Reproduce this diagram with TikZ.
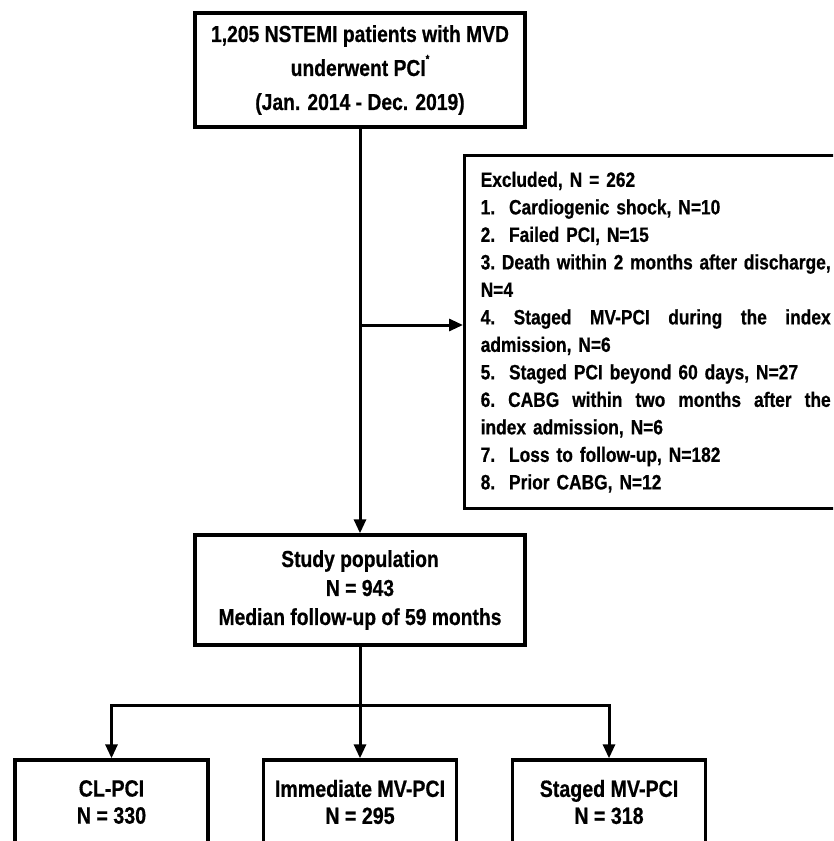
\documentclass[tikz,border=0pt]{standalone}
\usepackage{fontspec}
\newfontfamily\fa[FakeStretch=0.835, BoldFeatures={FakeBold=0.6}]{Liberation Sans}
\usetikzlibrary{arrows.meta}
\newcommand\jline[1]{\leavevmode\hbox to 350pt{\spaceskip=0.25em plus 1fil\relax\xspaceskip=0.25em plus 1fil\relax #1}}
\begin{document}
\begin{tikzpicture}[x=1pt,y=-1pt,
  box/.style={draw, line width=3.4pt, inner sep=0pt, align=center,
    font=\fa\bfseries\fontsize{23.1}{34}\selectfont},
  lbox/.style={draw, line width=3.4pt, inner sep=0pt, align=center,
    minimum width=193pt, minimum height=84pt,
    font=\fa\bfseries\fontsize{23.5}{27}\selectfont},
  conn/.style={line width=3pt},
  arr/.style={line width=3pt, line join=miter, -{Triangle[length=14pt,width=12pt]}}]
\useasboundingbox (0,0) rectangle (833,841);
\clip (0,0) rectangle (833,841);
\fill[white] (0,0) rectangle (833,841);

\node[box, minimum width=330pt, minimum height=114pt] (top) at (360,70)
  {1,205 NSTEMI patients with MVD\\underwent PCI\raisebox{1.1ex}{\fontsize{11}{11}\selectfont *}\\(Jan. 2014 - Dec. 2019)};

\node[box, minimum width=330pt, minimum height=110pt,
  font=\fa\bfseries\fontsize{23.1}{29}\selectfont] (study) at (360,590)
  {Study population\\N = 943\\Median follow-up of 59 months};

\node[draw, line width=3.4pt, anchor=north west, minimum height=353pt,
  text width=350pt, inner xsep=16pt, inner ysep=0pt, align=left,
  font=\fa\bfseries\fontsize{20.8}{27.5}\selectfont] (exc) at (463,154)
  {Excluded, N = 262\\
   1.\ \ Cardiogenic shock, N=10\\
   2.\ \ Failed PCI, N=15\\
   \jline{3. Death within 2 months after discharge,}\\
   N=4\\
   \jline{4. Staged MV-PCI during the index}\\
   admission, N=6\\
   5.\ \ Staged PCI beyond 60 days, N=27\\
   \jline{6. CABG within two months after the}\\
   index admission, N=6\\
   7.\ \ Loss to follow-up, N=182\\
   8.\ \ Prior CABG, N=12};

\node[lbox] (cl) at (111.5,802) {CL-PCI\\N = 330};
\node[lbox] (im) at (360,802) {Immediate MV-PCI\\N = 295};
\node[lbox] (st) at (609,802) {Staged MV-PCI\\N = 318};

\coordinate (j1) at (360,325);
\coordinate (j2) at (360,705);
\draw[conn] (top.south) -- (j1);
\draw[arr] (j1) -- (study.north);
\draw[arr] (j1) -- (j1 -| exc.west);
\draw[conn] (study.south) -- (j2);
\draw[arr] (j2) -| (cl.north);
\draw[arr] (j2) -| (st.north);
\draw[arr] (j2) -- (im.north);
\end{tikzpicture}
\end{document}
